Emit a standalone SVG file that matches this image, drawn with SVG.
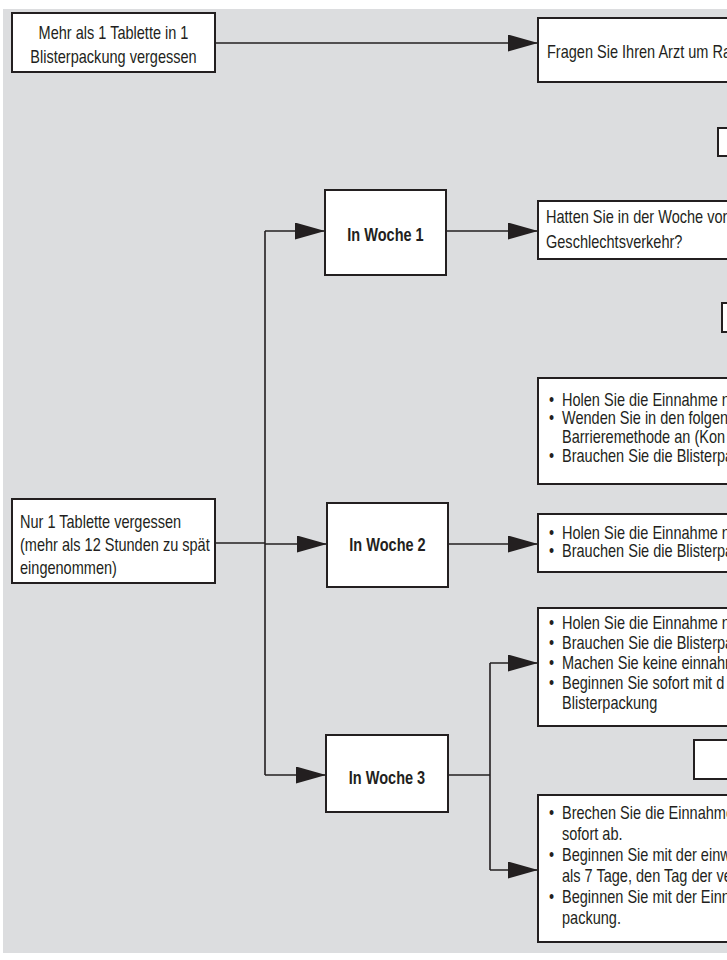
<svg xmlns="http://www.w3.org/2000/svg" width="727" height="960" viewBox="0 0 727 960">
<defs>
<style>
.bg{fill:#dcdddf}
.box{fill:#ffffff;stroke:#231f20;stroke-width:2}
.ln{fill:none;stroke:#231f20;stroke-width:1.6}
text{font-family:"Liberation Sans",Arial,sans-serif;font-size:17.5px;fill:#231f20}
.c{text-anchor:middle}
.b{font-weight:bold}
</style>
<marker id="ah" markerUnits="userSpaceOnUse" markerWidth="30" markerHeight="17" refX="30" refY="8.5" orient="auto" viewBox="0 0 30 17">
<path d="M0,0 L30,8.5 L0,17 Z" fill="#231f20"/>
</marker>
</defs>
<rect class="bg" x="3" y="9" width="724" height="944"/>

<g id="connectors">
<path class="ln" d="M215,43 H538" marker-end="url(#ah)"/>
<path class="ln" d="M215,543 H265"/>
<path class="ln" d="M265,231 V775"/>
<path class="ln" d="M265,231 H325" marker-end="url(#ah)"/>
<path class="ln" d="M265,544 H327" marker-end="url(#ah)"/>
<path class="ln" d="M265,775 H326" marker-end="url(#ah)"/>
<path class="ln" d="M446,231 H538" marker-end="url(#ah)"/>
<path class="ln" d="M448,544 H538" marker-end="url(#ah)"/>
<path class="ln" d="M448,775 H490"/>
<path class="ln" d="M490,663 V870"/>
<path class="ln" d="M490,663 H538" marker-end="url(#ah)"/>
<path class="ln" d="M490,870 H538" marker-end="url(#ah)"/>
</g>

<g id="n-mehr">
<rect class="box" x="12" y="13" width="203" height="59"/>
<text class="c" transform="matrix(0.83 0 0 1 113.5 39)">Mehr als 1 Tablette in 1</text>
<text class="c" transform="matrix(0.83 0 0 1 113.5 63)">Blisterpackung vergessen</text>
</g>

<g id="n-fragen">
<rect class="box" x="538" y="18" width="230" height="64"/>
<text transform="matrix(0.83 0 0 1 547 58)">Fragen Sie Ihren Arzt um Ra</text>
</g>

<g id="n-small1">
<rect class="box" x="718" y="128" width="30" height="28"/>
</g>

<g id="n-woche1">
<rect class="box" x="325" y="190" width="121" height="85"/>
<text class="c b" transform="matrix(0.83 0 0 1 385.5 241)">In Woche 1</text>
</g>

<g id="n-hatten">
<rect class="box" x="538" y="201" width="230" height="58"/>
<text transform="matrix(0.83 0 0 1 546 223)">Hatten Sie in der Woche vor</text>
<text transform="matrix(0.83 0 0 1 546 248)">Geschlechtsverkehr?</text>
</g>

<g id="n-small2">
<rect class="box" x="722" y="303" width="30" height="29"/>
</g>

<g id="n-w1result">
<rect class="box" x="538" y="378" width="230" height="106"/>
<text transform="matrix(0.83 0 0 1 549 406)">•</text><text transform="matrix(0.83 0 0 1 562 406)">Holen Sie die Einnahme n</text>
<text transform="matrix(0.83 0 0 1 549 424)">•</text><text transform="matrix(0.83 0 0 1 562 424)">Wenden Sie in den folgen</text>
<text transform="matrix(0.83 0 0 1 562 443)">Barrieremethode an (Kon</text>
<text transform="matrix(0.83 0 0 1 549 462)">•</text><text transform="matrix(0.83 0 0 1 562 462)">Brauchen Sie die Blisterpa</text>
</g>

<g id="n-nur">
<rect class="box" x="12" y="499" width="203" height="84"/>
<text transform="matrix(0.83 0 0 1 20 528)">Nur 1 Tablette vergessen</text>
<text transform="matrix(0.83 0 0 1 20 551)">(mehr als 12 Stunden zu spät</text>
<text transform="matrix(0.83 0 0 1 20 574)">eingenommen)</text>
</g>

<g id="n-woche2">
<rect class="box" x="327" y="503" width="121" height="84"/>
<text class="c b" transform="matrix(0.83 0 0 1 387.5 551)">In Woche 2</text>
</g>

<g id="n-w2result">
<rect class="box" x="538" y="514" width="230" height="58"/>
<text transform="matrix(0.83 0 0 1 549 539)">•</text><text transform="matrix(0.83 0 0 1 562 539)">Holen Sie die Einnahme n</text>
<text transform="matrix(0.83 0 0 1 549 557)">•</text><text transform="matrix(0.83 0 0 1 562 557)">Brauchen Sie die Blisterpa</text>
</g>

<g id="n-w3result1">
<rect class="box" x="538" y="608" width="230" height="118"/>
<text transform="matrix(0.83 0 0 1 549 629)">•</text><text transform="matrix(0.83 0 0 1 562 629)">Holen Sie die Einnahme n</text>
<text transform="matrix(0.83 0 0 1 549 649)">•</text><text transform="matrix(0.83 0 0 1 562 649)">Brauchen Sie die Blisterpa</text>
<text transform="matrix(0.83 0 0 1 549 669)">•</text><text transform="matrix(0.83 0 0 1 562 669)">Machen Sie keine einnahm</text>
<text transform="matrix(0.83 0 0 1 549 689)">•</text><text transform="matrix(0.83 0 0 1 562 689)">Beginnen Sie sofort mit d</text>
<text transform="matrix(0.83 0 0 1 562 709)">Blisterpackung</text>
</g>

<g id="n-small3">
<rect class="box" x="694" y="740" width="60" height="39"/>
</g>

<g id="n-woche3">
<rect class="box" x="326" y="735" width="122" height="77"/>
<text class="c b" transform="matrix(0.83 0 0 1 387 784)">In Woche 3</text>
</g>

<g id="n-w3result2">
<rect class="box" x="538" y="795" width="230" height="147"/>
<text transform="matrix(0.83 0 0 1 549 819)">•</text><text transform="matrix(0.83 0 0 1 562 819)">Brechen Sie die Einnahme a</text>
<text transform="matrix(0.83 0 0 1 562 840)">sofort ab.</text>
<text transform="matrix(0.83 0 0 1 549 861)">•</text><text transform="matrix(0.83 0 0 1 562 861)">Beginnen Sie mit der einw</text>
<text transform="matrix(0.83 0 0 1 562 882)">als 7 Tage, den Tag der verg</text>
<text transform="matrix(0.83 0 0 1 549 903)">•</text><text transform="matrix(0.83 0 0 1 562 903)">Beginnen Sie mit der Einna</text>
<text transform="matrix(0.83 0 0 1 562 924)">packung.</text>
</g>
</svg>
